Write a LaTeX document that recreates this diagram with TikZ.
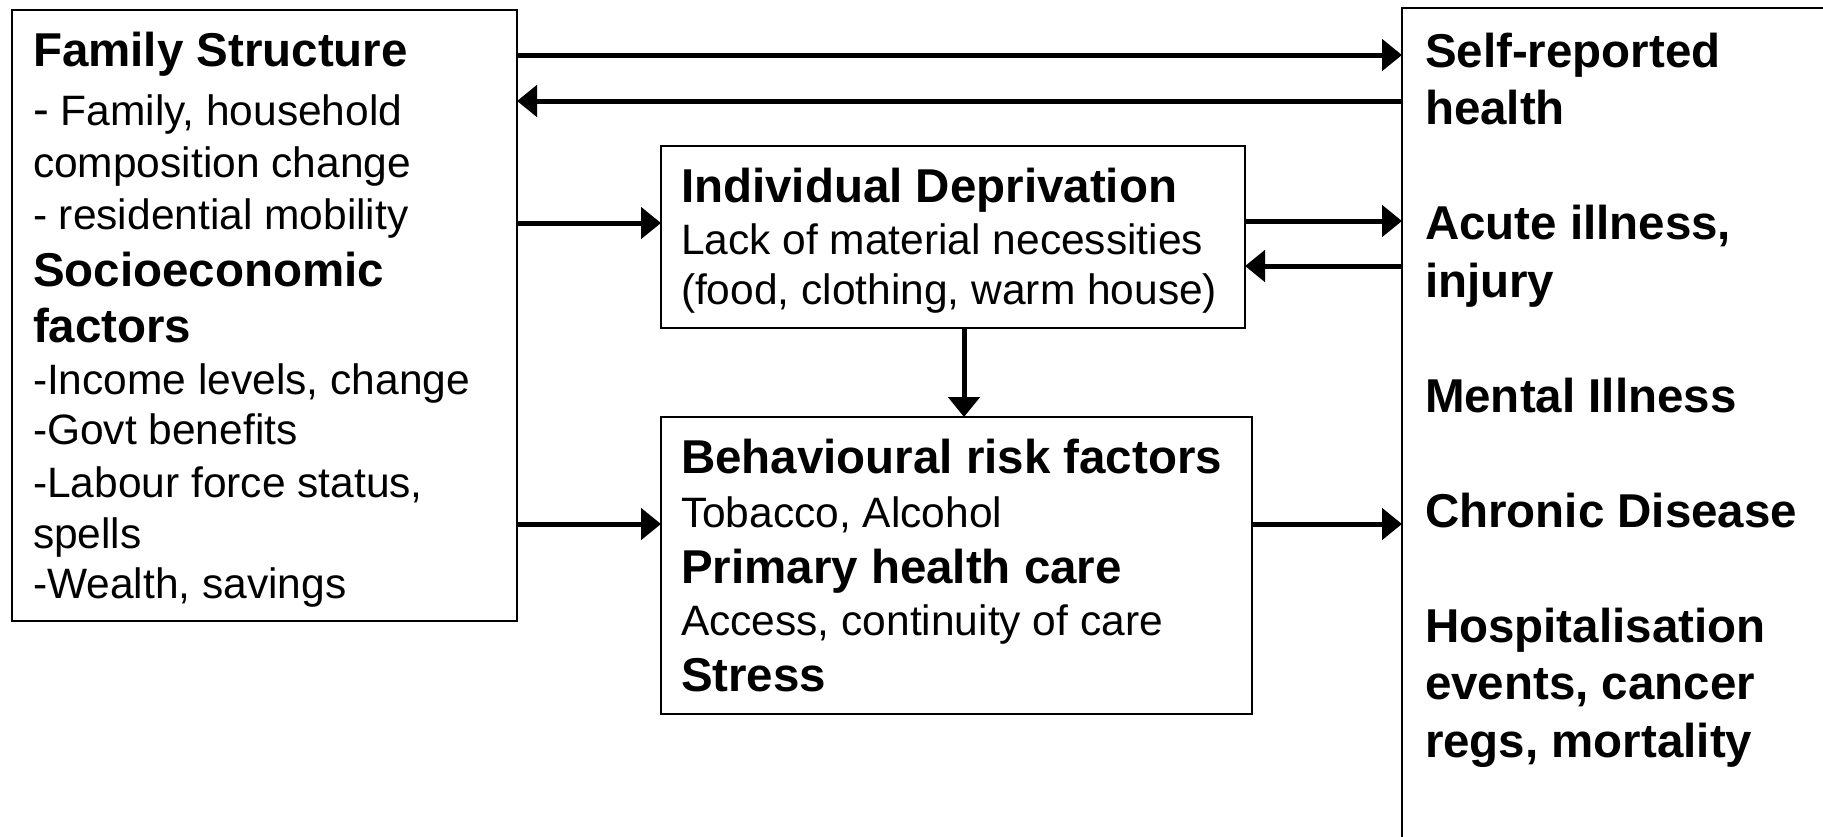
\documentclass[tikz,border=0pt]{standalone}
\usepackage{fontspec}
\setmainfont{Liberation Sans}
\usetikzlibrary{arrows.meta}

% one text row spanning the box: #1 = distance from the previous baseline, #2 = content
\newcommand\rowtxt[2]{\hbox to \hsize{\rule{0pt}{#1pt}\smash{#2}\hfil}}
\newcommand\regtxt{\fontsize{42.5}{51}\selectfont}
\newcommand\headtxt{\fontsize{47.5}{57}\selectfont\bfseries}

\begin{document}
\begin{tikzpicture}[x=1pt,y=-1pt,
  box/.style={draw, line width=2pt, inner ysep=0pt, anchor=north west, outer sep=0pt},
  link/.style={line width=5pt, -{Triangle[length=20pt,width=31pt]}}]

\fill[white] (0,0) rectangle (1823,836);
\useasboundingbox (0,0) rectangle (1823,836);

% family and socioeconomic determinants
\node[box, inner xsep=21pt] (fam) at (12,10) {\parbox[c][611pt][t]{463pt}{\offinterlineskip
  \rowtxt{56}{\headtxt Family Structure}
  \rowtxt{59}{\regtxt{\fontsize{47.5}{57}\selectfont -} Family, household}
  \rowtxt{52}{\regtxt composition change}
  \rowtxt{52}{\regtxt - residential mobility}
  \rowtxt{57}{\headtxt Socioeconomic}
  \rowtxt{56}{\headtxt factors}
  \rowtxt{52}{\regtxt -Income levels, change}
  \rowtxt{50}{\regtxt -Govt benefits}
  \rowtxt{53}{\regtxt -Labour force status,}
  \rowtxt{51}{\regtxt spells}
  \rowtxt{50}{\regtxt -Wealth, savings}}};

% individual deprivation
\node[box, inner xsep=20pt] (dep) at (661,146) {\parbox[c][182pt][t]{544pt}{\offinterlineskip
  \rowtxt{56}{\headtxt Individual Deprivation}
  \rowtxt{52}{\regtxt Lack of material necessities}
  \rowtxt{50}{\regtxt (food, clothing, warm house)}}};

% behaviour, care and stress
\node[box, inner xsep=20pt] (beh) at (661,417) {\parbox[c][297pt][t]{551pt}{\offinterlineskip
  \rowtxt{56}{\headtxt Behavioural risk factors}
  \rowtxt{54}{\regtxt Tobacco, Alcohol}
  \rowtxt{56}{\headtxt Primary health care}
  \rowtxt{52}{\regtxt Access, continuity of care}
  \rowtxt{56}{\headtxt Stress}}};

% health outcomes (box runs past the page edge)
\node[box, inner xsep=23pt] (out) at (1402,8) {\parbox[c][900pt][t]{560pt}{\offinterlineskip
  \rowtxt{59}{\headtxt Self-reported}
  \rowtxt{57.5}{\headtxt health}
  \rowtxt{115}{\headtxt Acute illness,}
  \rowtxt{57.5}{\headtxt injury}
  \rowtxt{115}{\headtxt Mental Illness}
  \rowtxt{115}{\headtxt Chronic Disease}
  \rowtxt{115}{\headtxt Hospitalisation}
  \rowtxt{57.5}{\headtxt events, cancer}
  \rowtxt{57.5}{\headtxt regs, mortality}}};

% connector levels
\coordinate (ya) at (0,55);
\coordinate (yb) at (0,101);
\coordinate (yc) at (0,223);
\coordinate (yd) at (0,221);
\coordinate (ye) at (0,266);
\coordinate (yf) at (0,524);
\coordinate (xv) at (964,0);

\draw[link] (fam.east |- ya) -- (out.west |- ya);
\draw[link] (out.west |- yb) -- (fam.east |- yb);
\draw[link] (fam.east |- yc) -- (dep.west |- yc);
\draw[link] (dep.east |- yd) -- (out.west |- yd);
\draw[link] (out.west |- ye) -- (dep.east |- ye);
\draw[link] (dep.south -| xv) -- (beh.north -| xv);
\draw[link] (fam.east |- yf) -- (beh.west |- yf);
\draw[link] (beh.east |- yf) -- (out.west |- yf);

\end{tikzpicture}
\end{document}
